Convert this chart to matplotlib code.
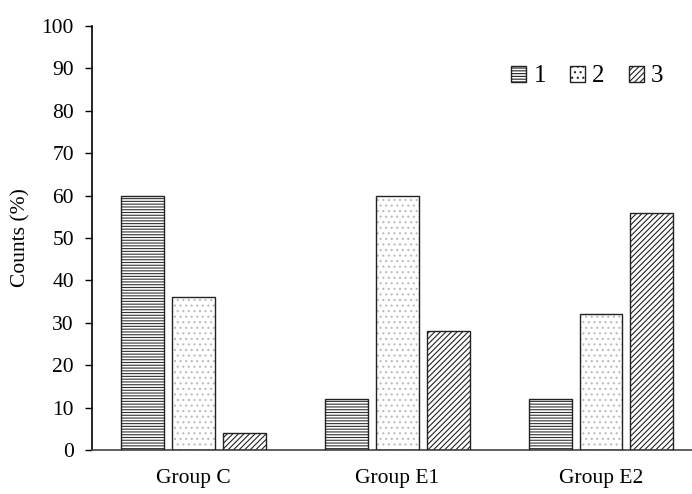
import numpy as np
import matplotlib.pyplot as plt
from matplotlib.patches import Patch

plt.rcParams['font.family'] = ['Liberation Serif', 'DejaVu Serif']
plt.rcParams['hatch.linewidth'] = 0.8

groups = ['Group C', 'Group E1', 'Group E2']
series = ['1', '2', '3']
vals_1 = [60, 12, 12]
vals_2 = [36, 60, 32]
vals_3 = [4, 28, 56]

hatches = ['------', '...', '//////']
hatch_cols = ['#333333', '#bbbbbb', '#222222']

fig = plt.figure(figsize=(6.92, 4.94), dpi=100)
ax = fig.add_axes([92/692, 44/494, 1 - 92/692, (450-26)/494])

x = np.arange(len(groups))
w = 0.211
handles = []
for i, (v, h, hc) in enumerate(zip([vals_1, vals_2, vals_3], hatches, hatch_cols)):
    pos = x + (i - 1) * 0.25
    ax.bar(pos, v, w, color='white', edgecolor=hc, hatch=h, linewidth=0, zorder=2)
    ax.bar(pos, v, w, fill=False, edgecolor='#222222', linewidth=1.0, zorder=3)
    handles.append(Patch(facecolor='white', edgecolor='#222222', hatch=h, label=series[i]))

ax.set_xlim(-0.5, 2.447)
ax.set_ylim(0, 100)
ax.set_yticks(range(0, 101, 10))
ax.set_xticks(x)
ax.set_xticklabels(groups)
ax.tick_params(axis='y', labelsize=15.5, length=5, width=1, direction='out', pad=8)
ax.tick_params(axis='x', labelsize=15.5, length=0, pad=14)
for s in ['top', 'right']:
    ax.spines[s].set_visible(False)
ax.spines['left'].set_linewidth(1.2)
ax.spines['bottom'].set_linewidth(1.2)
ax.spines['bottom'].set_color('#444444')
ax.set_ylabel('Counts (%)', fontsize=15.5, labelpad=8)

ax.legend(handles=handles, loc='upper right', bbox_to_anchor=(0.99, 0.96), ncol=3,
          frameon=False, fontsize=18, handlelength=0.6, handleheight=0.6,
          handletextpad=0.3, columnspacing=0.95)

fig.savefig('out.png', dpi=100)
